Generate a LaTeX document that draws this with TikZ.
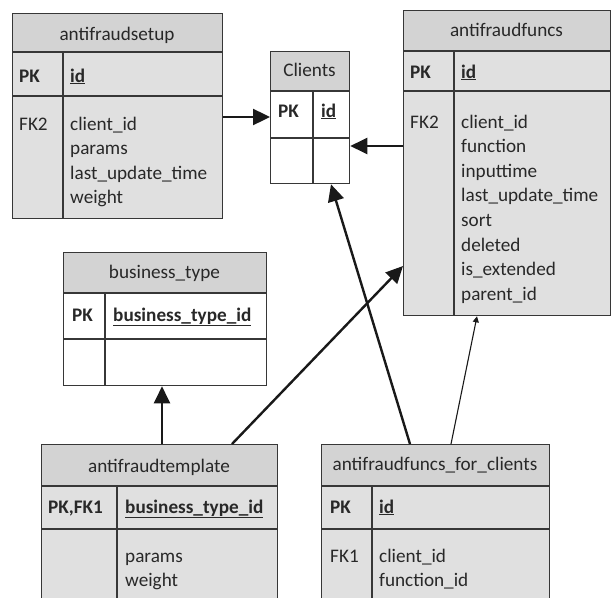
\documentclass[tikz,border=0pt]{standalone}
\usepackage{fontspec}
\setmainfont{Carlito}
\usetikzlibrary{arrows.meta,calc}
\definecolor{headgray}{RGB}{211,211,211}
\definecolor{bodygray}{RGB}{224,224,224}
\definecolor{edge}{RGB}{55,55,55}
\definecolor{ink}{RGB}{40,40,40}
\tikzset{
  tbl/.style={draw=edge, line width=1.3pt, anchor=north west, inner sep=0pt,
    minimum width=#1},
  grid/.style={draw=edge, line width=1.3pt},
  txt/.style={anchor=base west, inner sep=0pt, text=ink,
    font=\fontsize{19.2}{24.6}\selectfont},
  ttl/.style={anchor=base, inner sep=0pt, text=ink,
    font=\fontsize{19.2}{24.6}\selectfont},
  rel/.style={line width=2.4pt, draw=black!90,
    -{Triangle[length=17pt,width=16pt]}},
  relthin/.style={line width=1.1pt, draw=black!90,
    -{Triangle[length=6pt,width=6pt]}}
}
\newcommand{\keyfield}[1]{\underline{\textbf{#1}}}
% one text node per field line, 24.6 apart, starting at a baseline
\newcommand{\fieldlist}[4]{%
  \foreach \fname [count=\fidx from 0] in {#4}
    \node[txt] (#1-\fidx) at (#2,#3+24.6*\fidx) {\fname};%
}
\begin{document}
\begin{tikzpicture}[x=1pt,y=-1pt]
\clip (0,0) rectangle (613,597);
\fill[white] (0,0) rectangle (613,597);

% ---------- antifraudsetup ----------
\fill[bodygray] (12,13) rectangle (222,218);
\fill[headgray] (12,13) rectangle (222,52);
\node[tbl=210pt, minimum height=205pt] (setup) at (12,13) {};
\draw[grid] (12,52) -- (222,52) (12,96) -- (222,96) (63,52) -- (63,218);
\node[ttl] (setup-t) at (117,40) {antifraudsetup};
\node[txt] (setup-pk) at (19,82) {\textbf{PK}};
\node[txt] (setup-id) at (70,82) {\keyfield{id}};
\node[txt] (setup-fk) at (19,130) {FK2};
\fieldlist{setup-f}{70}{130}{client\_id,params,last\_update\_time,weight}

% ---------- Clients ----------
\fill[white] (270,51) rectangle (349,183);
\fill[headgray] (270,51) rectangle (349,91);
\node[tbl=79pt, minimum height=132pt] (clients) at (270,51) {};
\draw[grid] (270,91) -- (349,91) (270,138) -- (349,138) (313,91) -- (313,183);
\node[ttl] (clients-t) at (309.5,76) {Clients};
\node[txt] (clients-pk) at (278,117) {\textbf{PK}};
\node[txt] (clients-id) at (321,117) {\keyfield{id}};

% ---------- antifraudfuncs ----------
\fill[bodygray] (403,10) rectangle (610,315);
\fill[headgray] (403,10) rectangle (610,51);
\node[tbl=207pt, minimum height=305pt] (funcs) at (403,10) {};
\draw[grid] (403,51) -- (610,51) (403,91) -- (610,91) (454,51) -- (454,315);
\node[ttl] (funcs-t) at (506.5,36) {antifraudfuncs};
\node[txt] (funcs-pk) at (410,78) {\textbf{PK}};
\node[txt] (funcs-id) at (461,78) {\keyfield{id}};
\node[txt] (funcs-fk) at (410,128) {FK2};
\fieldlist{funcs-f}{461}{128}{client\_id,function,inputtime,last\_update\_time,sort,deleted,is\_extended,parent\_id}

% ---------- business_type ----------
\fill[white] (63,252) rectangle (266,385);
\fill[headgray] (63,252) rectangle (266,293);
\node[tbl=203pt, minimum height=133pt] (btype) at (63,252) {};
\draw[grid] (63,293) -- (266,293) (63,339) -- (266,339) (105,293) -- (105,385);
\node[ttl] (btype-t) at (164.5,278) {business\_type};
\node[txt] (btype-pk) at (72,321) {\textbf{PK}};
\node[txt] (btype-id) at (113,321) {\keyfield{business\_type\_id}};

% ---------- antifraudtemplate ----------
\fill[bodygray] (41,444) rectangle (277,620);
\fill[headgray] (41,444) rectangle (277,486);
\node[tbl=236pt, minimum height=176pt] (tmpl) at (41,444) {};
\draw[grid] (41,486) -- (277,486) (41,529) -- (277,529) (117,486) -- (117,620);
\node[ttl] (tmpl-t) at (159,472) {antifraudtemplate};
\node[txt] (tmpl-pk) at (48,513) {\textbf{PK,FK1}};
\node[txt] (tmpl-id) at (125,513) {\keyfield{business\_type\_id}};
\fieldlist{tmpl-f}{125}{562}{params,weight}

% ---------- antifraudfuncs_for_clients ----------
\fill[bodygray] (321,444) rectangle (549,620);
\fill[headgray] (321,444) rectangle (549,486);
\node[tbl=228pt, minimum height=176pt] (fc) at (321,444) {};
\draw[grid] (321,486) -- (549,486) (321,529) -- (549,529) (372,486) -- (372,620);
\node[ttl] (fc-t) at (435,470) {antifraudfuncs\_for\_clients};
\node[txt] (fc-pk) at (330,513) {\textbf{PK}};
\node[txt] (fc-id) at (379,513) {\keyfield{id}};
\node[txt] (fc-fk) at (330,562) {FK1};
\fieldlist{fc-f}{379}{562}{client\_id,function\_id}

% ---------- relationships ----------
\draw[rel] ([yshift=-104pt]setup.north east) -- ([yshift=-66pt]clients.north west);
\draw[rel] ([yshift=-136pt]funcs.north west) -- ([yshift=-95pt]clients.north east);
\draw[rel] ([xshift=89pt]fc.north west) -- ([xshift=61pt]clients.south west);
\draw[relthin] ([xshift=130pt]fc.north west) -- ([xshift=74pt]funcs.south west);
\draw[rel] ([xshift=191pt]tmpl.north west) -- ([yshift=-256pt]funcs.north west);
\draw[rel] ([xshift=121pt]tmpl.north west) -- ([xshift=99pt]btype.south west);
\end{tikzpicture}
\end{document}
